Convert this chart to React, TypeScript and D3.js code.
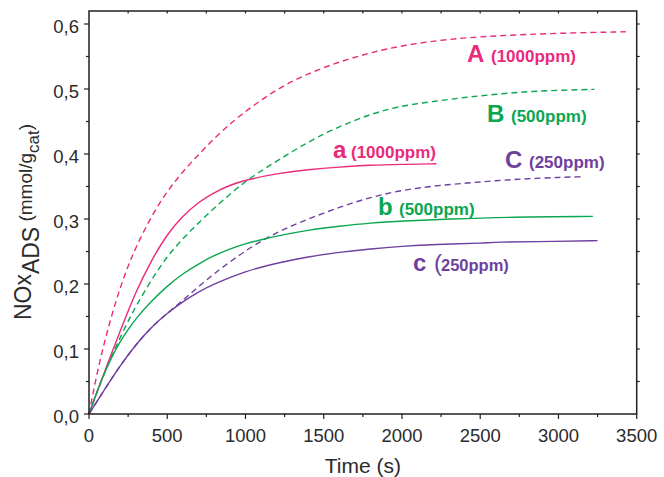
import React from "react";
import * as d3 from "d3";

// ---- data (time in s, NOx adsorbed in mmol/g_cat) ----
const tA = [0, 50, 100, 150, 200, 250, 300, 400, 500, 600, 700, 800, 900, 1000, 1200, 1400, 1600, 1800, 2000, 2300, 2600, 3000, 3430];
const vA = [0, 0.062, 0.112, 0.156, 0.195, 0.228, 0.257, 0.305, 0.343, 0.373, 0.399, 0.424, 0.446, 0.466, 0.5, 0.524, 0.542, 0.556, 0.567, 0.577, 0.582, 0.586, 0.588];

const tB = [0, 50, 100, 150, 200, 250, 300, 400, 500, 600, 700, 800, 900, 1000, 1100, 1200, 1300, 1400, 1500, 1600, 1700, 1800, 1900, 2000, 2200, 2400, 2600, 2800, 3000, 3230];
const vB = [0, 0.033, 0.064, 0.092, 0.118, 0.143, 0.166, 0.207, 0.243, 0.27, 0.294, 0.317, 0.338, 0.358, 0.374, 0.389, 0.404, 0.418, 0.431, 0.442, 0.452, 0.461, 0.468, 0.474, 0.481, 0.487, 0.492, 0.496, 0.498, 0.4995];

const tC = [0, 100, 200, 300, 400, 500, 600, 700, 800, 900, 1000, 1100, 1200, 1300, 1400, 1500, 1600, 1700, 1800, 1900, 2000, 2200, 2400, 2600, 2800, 3000, 3150];
const vC = [0, 0.038, 0.075, 0.107, 0.134, 0.155, 0.175, 0.196, 0.216, 0.234, 0.251, 0.266, 0.279, 0.29, 0.3, 0.309, 0.318, 0.326, 0.333, 0.339, 0.344, 0.351, 0.355, 0.359, 0.362, 0.364, 0.365];

const ta = [0, 50, 100, 150, 200, 300, 400, 500, 600, 700, 800, 900, 1000, 1200, 1400, 1600, 1800, 2000, 2220];
const va = [0, 0.033, 0.065, 0.097, 0.128, 0.189, 0.237, 0.277, 0.305, 0.326, 0.341, 0.352, 0.36, 0.37, 0.376, 0.38, 0.383, 0.384, 0.385];

const tb = [0, 50, 100, 150, 200, 250, 300, 400, 500, 600, 700, 800, 900, 1000, 1100, 1200, 1400, 1600, 1800, 2000, 2300, 2700, 3220];
const vb = [0, 0.034, 0.064, 0.09, 0.112, 0.13, 0.147, 0.174, 0.197, 0.216, 0.231, 0.244, 0.254, 0.262, 0.268, 0.274, 0.283, 0.289, 0.294, 0.297, 0.3, 0.303, 0.304];

const tc = [0, 100, 200, 300, 400, 500, 600, 700, 800, 900, 1000, 1100, 1200, 1400, 1600, 1800, 2000, 2200, 2550, 2570, 3000, 3250];
const vc = [0, 0.038, 0.075, 0.107, 0.134, 0.155, 0.173, 0.188, 0.2, 0.21, 0.219, 0.226, 0.232, 0.242, 0.249, 0.254, 0.258, 0.261, 0.263, 0.2645, 0.2655, 0.2667];

const xMajor = [0, 500, 1000, 1500, 2000, 2500, 3000, 3500];
const yMajor = [0, 0.1, 0.2, 0.3, 0.4, 0.5, 0.6];
const yTickLabels = ["0,0", "0,1", "0,2", "0,3", "0,4", "0,5", "0,6"];

const PINK = "#EA2A7B";
const GREEN = "#0AA650";
const PURPLE = "#6E3F9E";
const AXIS = "#231F20";
const FONT = "'Liberation Sans', Arial, Helvetica, sans-serif";

export default function App() {
  const W = 664, H = 477;
  const x = d3.scaleLinear().domain([0, 3500]).range([89, 636.7]);
  const y = d3.scaleLinear().domain([0, 0.62]).range([414, 11]);

  const line = d3
    .line<[number, number]>()
    .x((d) => x(d[0]))
    .y((d) => y(d[1]))
    .curve(d3.curveBasis);
  const path = (t: number[], v: number[]) => line(t.map((ti, i) => [ti, v[i]] as [number, number])) || "";

  const xMinor = d3.range(250, 3500, 500);
  const yMinor = d3.range(0.05, 0.61, 0.1);
  const allX = d3.range(250, 3500, 250);
  const allY = d3.range(0.05, 0.62, 0.05);

  const [x0, x1] = x.range();
  const [y0, y1] = y.range();

  return (
    <div style={{ position: "absolute", left: 0, top: 0 }}>
      <svg width={W} height={H} style={{ display: "block", background: "#fff" }} fontFamily={FONT}>
        {/* curves */}
        <g fill="none" strokeWidth={1.4}>
          <path d={path(tA, vA)} stroke={PINK} strokeDasharray="6,4" />
          <path d={path(tB, vB)} stroke={GREEN} strokeDasharray="6,4" />
          <path d={path(tC, vC)} stroke={PURPLE} strokeDasharray="6,4" />
          <path d={path(ta, va)} stroke={PINK} />
          <path d={path(tb, vb)} stroke={GREEN} />
          <path d={path(tc, vc)} stroke={PURPLE} />
        </g>

        {/* frame */}
        <rect x={x0} y={y1} width={x1 - x0} height={y0 - y1} fill="none" stroke={AXIS} strokeWidth={1.5} />

        <g stroke={AXIS} strokeWidth={1.2}>
          {xMajor.map((t) => (
            <line key={"xb" + t} x1={x(t)} x2={x(t)} y1={y0} y2={y0 + 5} />
          ))}
          {xMinor.map((t) => (
            <line key={"xbm" + t} x1={x(t)} x2={x(t)} y1={y0} y2={y0 + 3} />
          ))}
          {allX.map((t) => (
            <line key={"xt" + t} x1={x(t)} x2={x(t)} y1={y1} y2={y1 + 2.5} />
          ))}
          {yMajor.map((v) => (
            <line key={"yl" + v} x1={x0 - 5} x2={x0} y1={y(v)} y2={y(v)} />
          ))}
          {yMinor.map((v) => (
            <line key={"ylm" + v} x1={x0 - 3} x2={x0} y1={y(v)} y2={y(v)} />
          ))}
          {allY.map((v) => (
            <line key={"yr" + v} x1={x1} x2={x1 + 3} y1={y(v)} y2={y(v)} />
          ))}
        </g>

        {/* tick labels */}
        <g fill="#2b2b2b" fontSize={18.5}>
          {xMajor.map((t) => (
            <text key={"xl" + t} x={x(t)} y={442} textAnchor="middle">
              {t}
            </text>
          ))}
          {yMajor.map((v, i) => (
            <text key={"ylab" + v} x={79} y={y(v) + 8.5} textAnchor="end">
              {yTickLabels[i]}
            </text>
          ))}
        </g>

        {/* axis titles */}
        <text x={(x0 + x1) / 2} y={473} textAnchor="middle" fontSize={21} fill="#2b2b2b">
          Time (s)
        </text>
        <text transform="translate(31,222) rotate(-90)" textAnchor="middle" fill="#2b2b2b">
          <tspan fontSize={23}>NOx</tspan>
          <tspan fontSize={23} dy={8}>ADS</tspan>
          <tspan fontSize={19} dy={-7}>{"\u00a0(mmol/g"}</tspan>
          <tspan fontSize={17} dy={6.5}>cat</tspan>
          <tspan fontSize={19} dy={-6.5}>)</tspan>
        </text>

        {/* annotations */}
        <g fontWeight="bold">
          <text x={467} y={62} fill={PINK}>
            <tspan fontSize={24}>A</tspan>
            <tspan x={491} fontSize={17}>(1000ppm)</tspan>
          </text>
          <text x={487} y={122} fill={GREEN}>
            <tspan fontSize={24}>B</tspan>
            <tspan x={511} fontSize={17}>(500ppm)</tspan>
          </text>
          <text x={505} y={167.5} fill={PURPLE}>
            <tspan fontSize={24}>C</tspan>
            <tspan x={529} fontSize={17}>(250ppm)</tspan>
          </text>
          <text x={333} y={158} fill={PINK}>
            <tspan fontSize={24}>a</tspan>
            <tspan x={351} fontSize={17}>(1000ppm)</tspan>
          </text>
          <text x={378} y={214.5} fill={GREEN}>
            <tspan fontSize={24}>b</tspan>
            <tspan x={399} fontSize={17}>(500ppm)</tspan>
          </text>
          <text x={413} y={271} fill={PURPLE}>
            <tspan fontSize={24}>c</tspan>
            <tspan x={434} fontSize={24} fontWeight="normal">(</tspan>
            <tspan x={441} fontSize={16.5}>250ppm)</tspan>
          </text>
        </g>
      </svg>
    </div>
  );
}
